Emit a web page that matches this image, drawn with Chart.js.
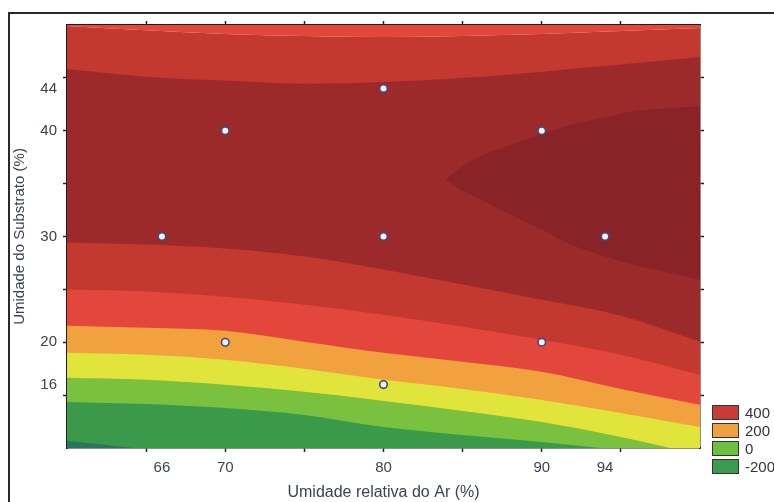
<!DOCTYPE html>
<html><head><meta charset="utf-8">
<script src="https://cdn.jsdelivr.net/npm/chart.js@4/dist/chart.umd.min.js"></script>
<style>
html,body{margin:0;padding:0;background:#fff;width:774px;height:502px;overflow:hidden}
#wrap{position:relative;width:774px;height:502px}
#frame{position:absolute;left:8px;top:12px;width:900px;height:700px;border:2px solid #2a2a2a}
canvas{position:absolute;left:0;top:0}
#legend{position:absolute;left:712px;top:403px;font:15px "Liberation Sans",Arial,sans-serif;color:#333}
.item{display:flex;align-items:center;height:18px;white-space:nowrap}
.sw{width:25px;height:13px;border:1px solid #333;margin-right:6px;flex:none}
</style>
</head><body>
<div id="wrap">
<div id="frame"></div>
<canvas id="c" width="774" height="502"></canvas>
<div id="legend"></div>
</div>
<script>
// ---- data ----
const gridX = [60, 65, 70, 75, 80, 85, 90, 95, 100];
// contour boundaries (y value of each level line along gridX)
const edgeTopStrip = [49.9, 49.5, 49.15, 48.96, 48.86, 48.96, 49.15, 49.43, 49.72];
const edgeHighTop  = [45.83, 45.11, 44.74, 44.45, 44.6, 44.98, 45.59, 46.26, 46.97];
const edgeHighLow  = [29.43, 29.24, 28.86, 28.1, 26.87, 25.45, 24.03, 22.51, 20.05];
const edgeMidRed   = [24.98, 24.79, 24.31, 23.55, 22.61, 21.47, 20.24, 18.82, 16.92];
const edgeRed      = [21.56, 21.37, 21.09, 20.05, 19.0, 18.15, 17.2, 15.59, 14.08];
const edgeOrange   = [19.0, 18.82, 18.34, 17.49, 16.45, 15.59, 14.55, 13.32, 11.99];
const edgeYellow   = [16.64, 16.45, 15.97, 15.31, 14.45, 13.51, 12.46, 11.04, 9.34];
const edgeLightGrn = [14.36, 14.17, 13.79, 13.13, 11.99, 11.23, 10.57, 9.81, 9.05];
const cornerX      = [60, 61.5, 63, 64.5];
const cornerY      = [10.66, 10.45, 10.2, 9.95];
// darkest wedge (peak region)
const wedgeX     = [83.9, 84.5, 86, 88, 90, 92, 94, 96, 98, 100];
const wedgeUpper = [35.4, 36.1, 37.49, 38.63, 39.67, 40.62, 41.28, 41.9, 42.13, 42.32];
const wedgeLower = [35.4, 34.8, 33.6, 32.09, 30.66, 29.15, 28.1, 27.25, 26.59, 25.92];
// experimental design points
const designX = [66, 70, 70, 80, 80, 80, 90, 90, 94];
const designY = [30, 40, 20, 44, 30, 16, 40, 20, 30];
// ticks
const xTickMarks = [65, 66, 70, 75, 80, 85, 90, 94, 95];
const xTickLabels = [66, 70, 80, 90, 94];
const yTickMarks = [15, 16, 20, 25, 30, 35, 40, 44, 45];
const yTickLabels = [16, 20, 30, 40, 44];
const legendLabels = ['400', '200', '0', '-200'];
const xTitle = 'Umidade relativa do Ar (%)';
const yTitle = 'Umidade do Substrato (%)';

// ---- styles ----
const C = {
  brightRed: '#e3463a', midRed: '#c4392f', darkRed: '#9d2a2b', peak: '#8a2327',
  orange: '#f1a13d', yellow: '#e1e43a', lightGreen: '#79c13e', green: '#3a9a4a', teal: '#2a7460'
};
const legendColors = ['#c83b37', '#f0a03e', '#6dbf3f', '#3a9a50'];
const textColor = '#3a4254';
const font = { family: '"Liberation Sans", Arial, sans-serif', size: 15 };
const xTitleFont = { family: '"Liberation Sans", Arial, sans-serif', size: 16 };

const pts = (xa, ya) => xa.map((x, i) => ({ x: x, y: ya[i] }));
const band = (label, xa, ya, fill, color, order) => ({
  label, data: pts(xa, ya), fill, backgroundColor: color, borderColor: 'rgba(0,0,0,0)',
  borderWidth: 0, pointRadius: 0, cubicInterpolationMode: 'monotone', order
});

const datasets = [
  band('topStrip', gridX, edgeTopStrip, 'end', C.brightRed, 30),
  band('level1', gridX, edgeTopStrip, 'start', C.midRed, 29),
  band('level2', gridX, edgeHighTop, 'start', C.darkRed, 28),
  band('peakUpper', wedgeX, wedgeUpper, '+1', C.peak, 27),
  band('peakLower', wedgeX, wedgeLower, false, 'rgba(0,0,0,0)', 26),
  band('level3', gridX, edgeHighLow, 'start', C.midRed, 25),
  band('level4', gridX, edgeMidRed, 'start', C.brightRed, 24),
  band('level5', gridX, edgeRed, 'start', C.orange, 23),
  band('level6', gridX, edgeOrange, 'start', C.yellow, 22),
  band('level7', gridX, edgeYellow, 'start', C.lightGreen, 21),
  band('level8', gridX, edgeLightGrn, 'start', C.green, 20),
  band('level9', cornerX, cornerY, 'start', C.teal, 19),
  {
    label: 'pontos', data: pts(designX, designY), showLine: false, order: 0,
    pointRadius: 3.8, pointBackgroundColor: '#eef2fa', pointBorderColor: '#3d4c7c',
    pointBorderWidth: 1.6, clip: false
  }
];

const markColor = c => (c.tick && c.tick.value % 5 === 0) ? '#222' : 'rgba(0,0,0,0)';

new Chart(document.getElementById('c'), {
  type: 'line',
  data: { datasets },
  options: {
    responsive: false, animation: false, events: [],
    layout: { padding: { top: 25, right: 74, left: 0, bottom: 0 } },
    plugins: { legend: { display: false }, tooltip: { enabled: false } },
    scales: {
      x: {
        type: 'linear', position: 'bottom', min: 60, max: 100, z: 2,
        afterFit: s => { s.height = 54; },
        afterBuildTicks: s => { s.ticks = xTickMarks.map(v => ({ value: v })); },
        ticks: { autoSkip: false, maxRotation: 0, padding: 7, color: textColor, font,
          callback: v => xTickLabels.includes(v) ? String(v) : '' },
        grid: { drawOnChartArea: false, tickLength: 4, tickColor: markColor, tickWidth: 1.5 },
        border: { display: true, color: '#1e1e1e', width: 1.5 },
        title: { display: true, text: xTitle, color: textColor, font: xTitleFont, padding: { top: 0, bottom: 0 } }
      },
      y: {
        type: 'linear', position: 'left', min: 10, max: 50, z: 2,
        afterFit: s => { s.width = 67; },
        afterBuildTicks: s => { s.ticks = yTickMarks.map(v => ({ value: v })); },
        ticks: { autoSkip: false, padding: 6, color: textColor, font,
          callback: v => yTickLabels.includes(v) ? String(v) : '' },
        grid: { drawOnChartArea: false, tickLength: 4, tickColor: markColor, tickWidth: 1.5 },
        border: { display: true, color: '#1e1e1e', width: 1.5 },
        title: { display: true, text: yTitle, color: textColor, font, padding: { top: 11, bottom: 0 } }
      },
      x2: {
        type: 'linear', position: 'top', min: 60, max: 100, z: 2,
        afterFit: s => { s.height = 0; },
        afterBuildTicks: s => { s.ticks = xTickMarks.map(v => ({ value: v })); },
        ticks: { display: false },
        grid: { drawOnChartArea: false, tickLength: 4, tickColor: markColor, tickWidth: 1.5 },
        border: { display: true, color: '#1e1e1e', width: 1.5 }
      },
      y2: {
        type: 'linear', position: 'right', min: 10, max: 50, z: 2,
        afterFit: s => { s.width = 0; },
        afterBuildTicks: s => { s.ticks = yTickMarks.map(v => ({ value: v })); },
        ticks: { display: false },
        grid: { drawOnChartArea: false, tickLength: 4, tickColor: markColor, tickWidth: 1.5 },
        border: { display: true, color: '#1e1e1e', width: 1.5 }
      }
    }
  }
});

// legend (HTML text)
const lg = document.getElementById('legend');
legendLabels.forEach((t, i) => {
  const row = document.createElement('div');
  row.className = 'item';
  const sw = document.createElement('div');
  sw.className = 'sw';
  sw.style.background = legendColors[i];
  const tx = document.createElement('span');
  tx.textContent = t;
  row.appendChild(sw); row.appendChild(tx);
  lg.appendChild(row);
});
</script>
</body></html>
